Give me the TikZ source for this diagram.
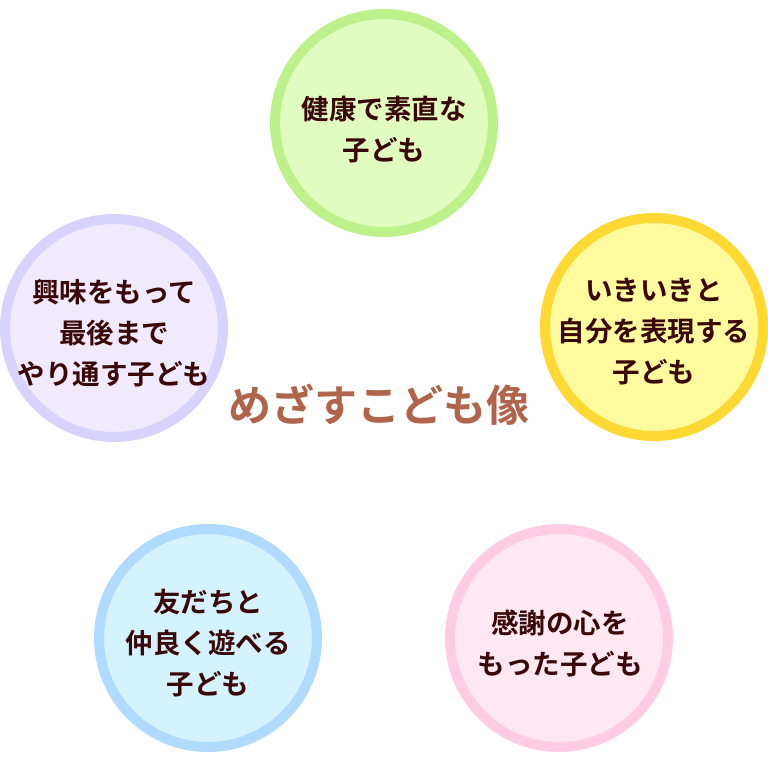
\documentclass[tikz,border=0pt]{standalone}
\usepackage{fontspec}
\newfontfamily\jpfont{Noto Sans CJK JP}[BoldFont={Noto Sans CJK JP Bold}]
\definecolor{ringgreen}{HTML}{BEF08C}
\definecolor{fillgreen}{HTML}{E1FCC0}
\definecolor{ringyellow}{HTML}{FFD933}
\definecolor{fillyellow}{HTML}{FFFA9E}
\definecolor{ringpurple}{HTML}{D8D2FF}
\definecolor{fillpurple}{HTML}{F1EAFD}
\definecolor{ringblue}{HTML}{B0DAFF}
\definecolor{fillblue}{HTML}{D5F3FF}
\definecolor{ringpink}{HTML}{FFCCE3}
\definecolor{fillpink}{HTML}{FFE8F1}
\definecolor{inktext}{HTML}{3A0808}
\definecolor{inktitle}{HTML}{B0654A}

\begin{document}
\begin{tikzpicture}[x=1pt, y=-1pt,
		bubble/.style={circle, line width=10pt, minimum size=218pt, inner sep=0pt},
		words/.style={align=center, inner sep=0pt, yshift=-5pt, text=inktext,
			font=\jpfont\bfseries\fontsize{27.5}{41}\selectfont},
		title/.style={text=inktitle, font=\jpfont\bfseries\fontsize{43}{43}\selectfont}]
			%%%%% START %%%%%
			\useasboundingbox (0, 0) rectangle (768, 760);
			
			\node[bubble, draw=ringgreen, fill=fillgreen] (kenko) at (384, 123) {};
			\node[bubble, draw=ringyellow, fill=fillyellow] (iki) at (654, 327) {};
			\node[bubble, draw=ringpurple, fill=fillpurple] (kyomi) at (114, 328) {};
			\node[bubble, draw=ringblue, fill=fillblue] (tomo) at (208, 638) {};
			\node[bubble, draw=ringpink, fill=fillpink] (kansha) at (559, 638) {};
			
			\node[words, yshift=-2pt] (kenko-txt) at (kenko) {健康で素直な\\子ども};
			\node[words] (iki-txt) at (iki) {いきいきと\\自分を表現する\\子ども};
			\node[words] (kyomi-txt) at (kyomi) {興味をもって\\最後まで\\やり通す子ども};
			\node[words] (tomo-txt) at (tomo) {友だちと\\仲良く遊べる\\子ども};
			\node[words, xshift=1pt] (kansha-txt) at (kansha) {感謝の心を\\もった子ども};
			
			\node[title] (zo) at (379, 405) {めざすこども像};
			%%%%% END %%%%%
\end{tikzpicture}
\end{document}
